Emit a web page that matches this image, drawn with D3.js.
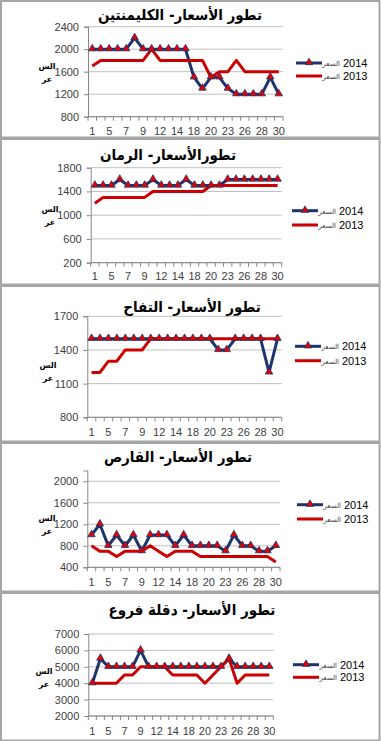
<!DOCTYPE html>
<html><head><meta charset="utf-8">
<script src="https://cdn.jsdelivr.net/npm/d3@7"></script>
<style>body{margin:0;background:#fff;overflow:hidden} svg{display:block}</style>
</head><body>
<script>
// ---------- DATA ----------
const categories = ["1","3","5","6","7","8","9","10","12","13","14","16","18","19","20","21","23","24","26","27","28","29","30"];
const seriesNames = ["السعر 2014", "السعر 2013"];
const yAxisTitle = "السعر";

const titles = [
  "تطور الأسعار- الكليمنتين",
  "تطورالأسعار- الرمان",
  "تطور الأسعار- التفاح",
  "تطور الأسعار- القارص",
  "تطور الأسعار- دقلة فروع"
];

const clementine2014 = [2000,2000,2000,2000,2000,2200,2000,2000,2000,2000,2000,2000,1500,1300,1500,1500,1300,1200,1200,1200,1200,1500,1200];
const clementine2013 = [1700,1800,1800,1800,1800,1800,1800,2000,1800,1800,1800,1800,1800,1800,1500,1600,1600,1800,1600,1600,1600,1600,1600];
const clementineTicks = [800,1200,1600,2000,2400];
const clementineDomain = [800,2400];

const pomegranate2014 = [1500,1500,1500,1600,1500,1500,1500,1600,1500,1500,1500,1600,1500,1500,1500,1500,1600,1600,1600,1600,1600,1600,1600];
const pomegranate2013 = [1200,1300,1300,1300,1300,1300,1300,1400,1400,1400,1400,1400,1400,1400,1500,1500,1500,1500,1500,1500,1500,1500,1500];
const pomegranateTicks = [200,600,1000,1400,1800];
const pomegranateDomain = [200,1800];

const apple2014 = [1500,1500,1500,1500,1500,1500,1500,1500,1500,1500,1500,1500,1500,1500,1500,1400,1400,1500,1500,1500,1500,1200,1500];
const apple2013 = [1200,1200,1300,1300,1400,1400,1400,1500,1500,1500,1500,1500,1500,1500,1500,1500,1500,1500,1500,1500,1500,1500,1500];
const appleTicks = [800,1100,1400,1700];
const appleDomain = [800,1700];

const qars2014 = [1000,1200,800,1000,800,1000,700,1000,1000,1000,800,1000,800,800,800,800,700,1000,800,800,700,700,800];
const qars2013 = [800,700,700,600,700,700,700,800,700,600,700,700,700,600,600,600,600,600,600,600,600,600,500];
const qarsTicks = [400,800,1200,1600,2000];
const qarsDomain = [400,2200];

const dates2014 = [4000,5500,5000,5000,5000,5000,6000,5000,5000,5000,5000,5000,5000,5000,5000,5000,5000,5500,5000,5000,5000,5000,5000];
const dates2013 = [4000,4000,4000,4000,4500,4500,5000,5000,5000,5000,4500,4500,4500,4500,4000,4500,5000,5500,4000,4500,4500,4500,4500];
const datesTicks = [2000,3000,4000,5000,6000,7000];
const datesDomain = [2000,7000];

// ---------- LAYOUT ----------
const W = 381, H = 741;
const layout = [
  {box:[0,138],   x0:88,   x1:283,   yTop:26.7,  yBot:116.7, tx:180, ty:20,  tw:154, ly:[63,76],      lx:296, xly:135,  yt:[47,72]},
  {box:[138,285], x0:90.7, x1:281.7, yTop:167.7, yBot:262.7, tx:168, ty:160, tw:127, ly:[210.7,225],  lx:292, xly:280.5, yt:[50,215]},
  {box:[285,442], x0:87.3, x1:281.7, yTop:316.3, yBot:417.3, tx:192, ty:312, tw:131, ly:[346.3,360.7],lx:295, xly:436,  yt:[48,371]},
  {box:[442,592], x0:87.3, x1:280,   yTop:470.5, yBot:567.3, tx:178, ty:462, tw:141, ly:[504.7,519],  lx:297, xly:586,  yt:[47,524]},
  {box:[592,741], x0:88.3, x1:273.3, yTop:634,   yBot:716,   tx:192, ty:615, tw:159, ly:[664.7,677.3],lx:293, xly:735,  yt:[44,677]}
];
const panelData = [
  {s14:clementine2014, s13:clementine2013, ticks:clementineTicks, domain:clementineDomain},
  {s14:pomegranate2014, s13:pomegranate2013, ticks:pomegranateTicks, domain:pomegranateDomain},
  {s14:apple2014, s13:apple2013, ticks:appleTicks, domain:appleDomain},
  {s14:qars2014, s13:qars2013, ticks:qarsTicks, domain:qarsDomain},
  {s14:dates2014, s13:dates2013, ticks:datesTicks, domain:datesDomain}
];

const NAVY = "#1c336b", RED = "#cc0000", MARK = "#e60000";
const FONT = "Arial, 'Liberation Sans', 'DejaVu Sans', sans-serif";
const TFONT = "'DejaVu Sans Condensed', 'DejaVu Sans', sans-serif";

const svg = d3.select("body").append("svg").attr("width", W).attr("height", H)
  .style("font-family", FONT);

const tri = d3.symbol().type(d3.symbolTriangle).size(24);

panelData.forEach((pd, i) => {
  const L = layout[i];
  const g = svg.append("g");

  // panel border
  g.append("rect").attr("x", 1).attr("y", L.box[0] + 1)
    .attr("width", W - 2.5).attr("height", L.box[1] - L.box[0] - 1.5)
    .attr("fill", "#fff").attr("stroke", "#a6a6a6").attr("stroke-width", 2);

  const x = d3.scaleBand().domain(categories).range([L.x0, L.x1]);
  const y = d3.scaleLinear().domain(pd.domain).range([L.yBot, L.yTop]);
  const cx = c => x(c) + x.bandwidth() / 2;

  // gridlines
  g.append("g").selectAll("line").data(pd.ticks).join("line")
    .attr("x1", L.x0).attr("x2", L.x1)
    .attr("y1", d => y(d)).attr("y2", d => y(d))
    .attr("stroke", "#bfbfbf").attr("stroke-width", 1);

  // y axis
  const yAxis = g.append("g").attr("transform", `translate(${L.x0},0)`)
    .call(d3.axisLeft(y).tickValues(pd.ticks).tickSize(4).tickPadding(5).tickFormat(d3.format("d")));
  yAxis.select(".domain").attr("stroke", "#868686");
  yAxis.selectAll(".tick line").attr("stroke", "#868686");
  yAxis.selectAll("text").attr("fill", "#404040").style("font-size", "11px").style("font-family", FONT);

  // x axis
  const xAxisG = g.append("g").attr("transform", `translate(0,${L.yBot})`);
  xAxisG.append("line").attr("x1", L.x0).attr("x2", L.x1).attr("y1", 0).attr("y2", 0)
    .attr("stroke", "#868686");
  const bounds = categories.map(c => x(c)).concat([L.x1]);
  xAxisG.selectAll("line.tk").data(bounds).join("line").attr("class", "tk")
    .attr("x1", d => d).attr("x2", d => d).attr("y1", 0).attr("y2", 4)
    .attr("stroke", "#868686");
  xAxisG.selectAll("text").data(categories.filter((c, k) => k % 2 === 0)).join("text")
    .attr("x", d => cx(d)).attr("y", L.xly - L.yBot)
    .attr("text-anchor", "middle").attr("fill", "#404040")
    .style("font-size", "11px").text(d => d);

  // lines
  const line = d3.line().x((d, k) => cx(categories[k])).y(d => y(d));
  g.append("path").datum(pd.s14).attr("d", line).attr("fill", "none")
    .attr("stroke", NAVY).attr("stroke-width", 3).attr("stroke-linejoin", "round");
  g.append("path").datum(pd.s13).attr("d", line).attr("fill", "none")
    .attr("stroke", RED).attr("stroke-width", 3).attr("stroke-linejoin", "round");
  g.append("g").selectAll("path").data(pd.s14).join("path")
    .attr("d", tri)
    .attr("transform", (d, k) => `translate(${cx(categories[k])},${y(d) - 0.5})`)
    .attr("fill", MARK).attr("stroke", NAVY).attr("stroke-width", 0.8);

  // title
  const t = g.append("text").attr("x", L.tx).attr("y", L.ty)
    .attr("text-anchor", "middle").attr("direction", "rtl")
    .style("font-family", TFONT)
    .style("font-size", "17px").style("font-weight", "bold").attr("fill", "#000")
    .text(titles[i]);
  const len = t.node().getComputedTextLength();
  if (len > 0) {
    const fs = Math.max(15, Math.min(18, 17 * L.tw / len));
    t.style("font-size", fs.toFixed(2) + "px");
  }

  // y axis title (stacked)
  const yt = g.append("text").attr("x", L.yt[0]).attr("y", L.yt[1]).attr("text-anchor", "middle")
    .style("font-size", "8px").style("font-weight", "bold").attr("fill", "#000");
  yt.append("tspan").attr("x", L.yt[0]).attr("dy", "-0.4em").text(yAxisTitle.slice(0, 3));
  yt.append("tspan").attr("x", L.yt[0]).attr("dy", "1.6em").text(yAxisTitle.slice(3));

  // legend
  const lg = g.append("g");
  [0, 1].forEach(s => {
    const ly = L.ly[s];
    lg.append("line").attr("x1", L.lx).attr("x2", L.lx + 26).attr("y1", ly).attr("y2", ly)
      .attr("stroke", s === 0 ? NAVY : RED).attr("stroke-width", 3);
    if (s === 0) {
      lg.append("path").attr("d", tri).attr("transform", `translate(${L.lx + 13},${ly - 0.5})`)
        .attr("fill", MARK).attr("stroke", NAVY).attr("stroke-width", 0.8);
    }
    const parts = seriesNames[s].split(" ");
    lg.append("text").attr("x", L.lx + 44).attr("y", ly + 3).attr("text-anchor", "end")
      .style("font-size", "7px").attr("fill", "#404040").text(parts[0]);
    lg.append("text").attr("x", L.lx + 47).attr("y", ly + 4)
      .style("font-size", "11px").attr("fill", "#000").text(parts[1]);
  });
});
</script>
</body></html>
